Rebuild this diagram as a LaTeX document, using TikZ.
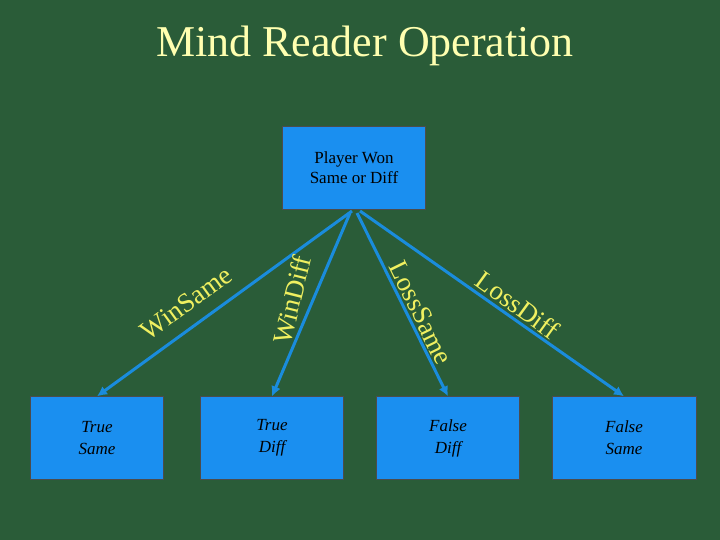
\documentclass[tikz,border=0pt]{standalone}
\usepackage{fontspec}
\setmainfont{Liberation Serif}
\begin{document}
\begin{tikzpicture}[x=1pt,y=-1pt,
  box/.style={draw=black!70,fill=boxblue,minimum width=143pt,minimum height=83pt,inner sep=0pt,align=center,font=\fontsize{17}{20}\selectfont},
  bbox/.style={box,minimum width=133pt,font=\itshape\fontsize{17}{22}\selectfont},
  conn/.style={draw=lineblue,line width=3pt,-{Latex[length=10pt,width=10pt]}},
  lab/.style={text=labyellow,font=\fontsize{27}{28}\selectfont,inner sep=1pt}]
\usetikzlibrary{arrows.meta}
\definecolor{bg}{HTML}{2A5C38}
\definecolor{boxblue}{HTML}{1A8FF0}
\definecolor{lineblue}{HTML}{1A8CDC}
\definecolor{labyellow}{HTML}{F0F060}
\definecolor{titlecol}{HTML}{FFFFB0}
\fill[bg] (0,0) rectangle (720,540);
\useasboundingbox (0,0) rectangle (720,540);
\node[text=titlecol,font=\fontsize{44}{48}\selectfont] (title) at (365,46) {Mind Reader Operation};
\node[box] (top) at (354,168) {Player Won\\Same or Diff};
\node[bbox] (ts) at (97,438) {True\\Same};
\node[bbox,minimum width=143pt] (td) at (272,438) {True\\Diff};
\node[bbox,minimum width=143pt] (fd) at (448,438) {False\\Diff};
\node[bbox,minimum width=144pt] (fs) at (624,438) {False\\Same};
\coordinate (s1) at (352,211);
\coordinate (s2) at (350,213);
\coordinate (s3) at (357,213);
\coordinate (s4) at (360,211);
\draw[conn] (s1) -- (ts.north);
\draw[conn] (s2) -- (td.north);
\draw[conn] (s3) -- (fd.north);
\draw[conn] (s4) -- (fs.north);
\node[lab,rotate=36] (l1) at (186,303) {WinSame};
\node[lab,rotate=76] (l2) at (292,300) {WinDiff};
\node[lab,rotate=-64] (l3) at (421,313) {LossSame};
\node[lab,rotate=-36] (l4) at (518,305) {LossDiff};
\end{tikzpicture}
\end{document}
